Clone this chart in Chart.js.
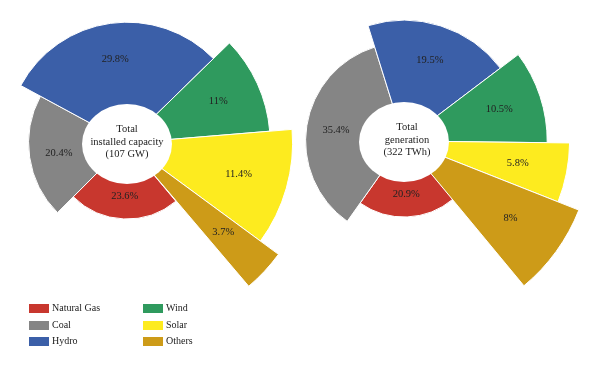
<!DOCTYPE html>
<html>
<head>
<meta charset="utf-8">
<script src="https://cdn.jsdelivr.net/npm/chart.js@4"></script>
<style>
  html, body { margin: 0; padding: 0; background: #fff; width: 600px; height: 367px; overflow: hidden; position: relative; }
  canvas { position: absolute; }
  .lg { position: absolute; font-family: "Liberation Serif", "DejaVu Serif", serif; font-size: 10px; color: #222; line-height: 10px; }
  .bx { position: absolute; width: 20px; height: 9px; }
</style>
</head>
<body>
<canvas id="c1" width="400" height="400" style="left:-73px; top:-57px;"></canvas>
<canvas id="c2" width="400" height="400" style="left:204px; top:-59px;"></canvas>
<div id="legend"></div>
<script>
// ---- data ----
const categories = ['Natural Gas', 'Coal', 'Hydro', 'Wind', 'Solar', 'Others'];
const capacityShare = [23.6, 20.4, 29.8, 11, 11.4, 3.7];      // % of 107 GW
const generationShare = [20.9, 35.4, 19.5, 10.5, 5.8, 8];     // % of 322 TWh
const ringLevel = [1, 2, 3, 4, 5, 6];                          // radial rank of each sector
const capacityCenter = ['Total', 'installed capacity', '(107 GW)'];
const generationCenter = ['Total', 'generation', '(322 TWh)'];

// ---- styles ----
const colors = ['#C8372E', '#858585', '#3B5FA8', '#2F9A5E', '#FDEB1F', '#CD9B18'];
const FONT = '"Liberation Serif", "DejaVu Serif", serif';

const overlay = {
  id: 'overlay',
  afterDatasetsDraw(chart, args, opts) {
    const ctx = chart.ctx;
    const sc = chart.scales.r;
    const cx = sc.xCenter, cy = sc.yCenter;
    // central hole
    ctx.save();
    ctx.fillStyle = '#ffffff';
    ctx.beginPath();
    ctx.ellipse(cx, cy + 1, 45, 40, 0, 0, Math.PI * 2);
    ctx.fill();
    // central text
    ctx.fillStyle = '#222';
    ctx.font = '10.5px ' + FONT;
    ctx.textAlign = 'center';
    ctx.textBaseline = 'middle';
    const lines = opts.lines;
    const lh = 12.5;
    lines.forEach((t, i) => ctx.fillText(t, cx + (opts.dx || 0), cy - 1 + (i - (lines.length - 1) / 2) * lh));
    // sector labels
    const meta = chart.getDatasetMeta(0);
    const vals = chart.data.datasets[0].shares;
    meta.data.forEach((el, i) => {
      const p = el.getProps(['x', 'y', 'startAngle', 'endAngle', 'outerRadius'], true);
      const mid = (p.startAngle + p.endAngle) / 2;
      const r = p.outerRadius * 0.7;
      ctx.fillText(vals[i] + '%', p.x + Math.cos(mid) * r, p.y + Math.sin(mid) * r);
    });
    ctx.restore();
  }
};

function makeChart(id, shares, centerLines, dx) {
  return new Chart(document.getElementById(id), {
    type: 'polarArea',
    data: {
      labels: categories,
      datasets: [{
        data: ringLevel,
        shares: shares,
        angle: (c) => shares[c.dataIndex] * 3.6,
        backgroundColor: colors,
        borderColor: '#ffffff',
        borderWidth: 1,
        clip: false
      }]
    },
    options: {
      responsive: false,
      animation: false,
      events: [],
      layout: { padding: 0 },
      plugins: {
        legend: { display: false },
        tooltip: { enabled: false },
        overlay: { lines: centerLines, dx: dx }
      },
      scales: {
        r: {
          display: false,
          startAngle: 140,
          min: -2.393,
          max: -2.393 + 200 / 22.4
        }
      }
    },
    plugins: [overlay]
  });
}

makeChart('c1', capacityShare, capacityCenter, 0);
makeChart('c2', generationShare, generationCenter, 3);

// ---- legend (HTML) ----
const legend = document.getElementById('legend');
const colX = [29, 143];
const rowY = [303.5, 320.5, 336.5];
categories.forEach((name, i) => {
  const col = i < 3 ? 0 : 1;
  const row = i % 3;
  const b = document.createElement('div');
  b.className = 'bx';
  b.style.left = colX[col] + 'px';
  b.style.top = rowY[row] + 'px';
  b.style.background = colors[i];
  legend.appendChild(b);
  const t = document.createElement('div');
  t.className = 'lg';
  t.style.left = (colX[col] + 23) + 'px';
  t.style.top = (rowY[row] - 0.5) + 'px';
  t.textContent = name;
  legend.appendChild(t);
});
</script>
</body>
</html>
